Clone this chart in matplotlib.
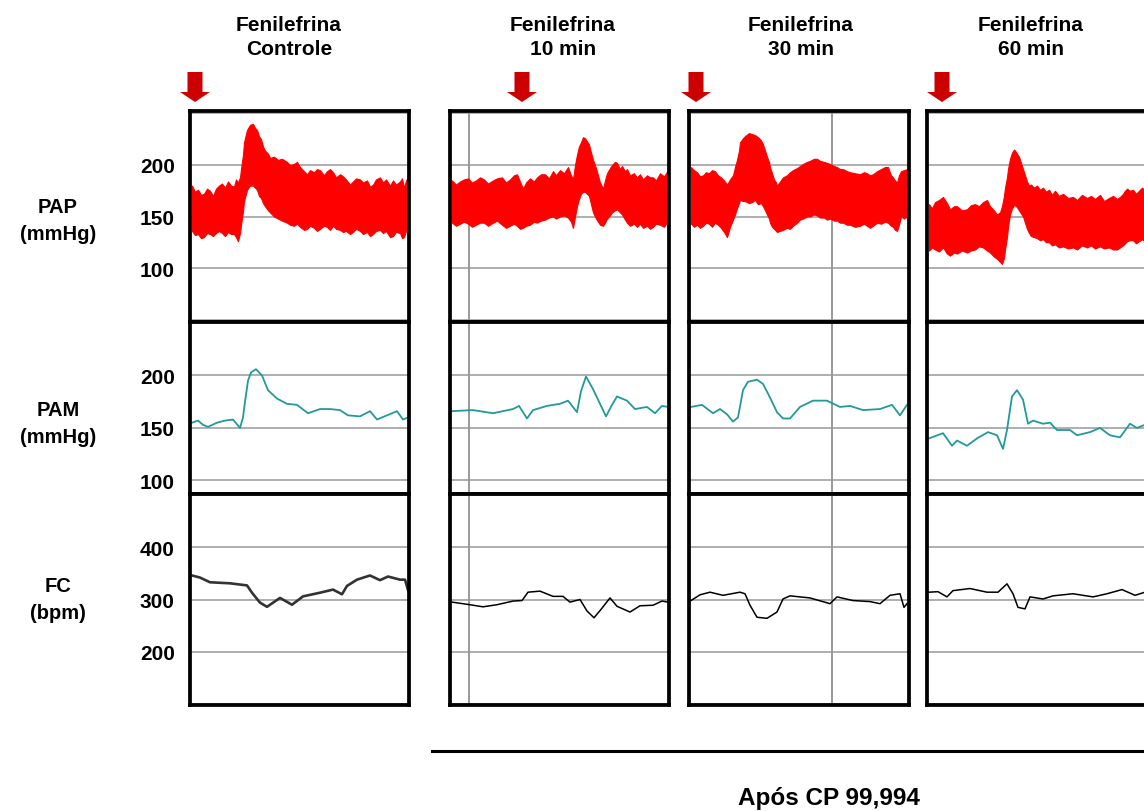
import numpy as np
import matplotlib.pyplot as plt
from matplotlib.patches import Polygon
from matplotlib import transforms
from matplotlib.lines import Line2D

plt.rcParams['font.family'] = ['Liberation Sans', 'DejaVu Sans']
plt.rcParams['font.weight'] = 'bold'

W, H = 1144, 812

# ---- labels / scales ----
titles = ['Fenilefrina\nControle', 'Fenilefrina\n10 min', 'Fenilefrina\n30 min', 'Fenilefrina\n60 min']
row_labels = ['PAP\n(mmHg)', 'PAM\n(mmHg)', 'FC\n(bpm)']
row_ticks = [[100, 150, 200], [100, 150, 200], [200, 300, 400]]
row_grid = [[50, 100, 150, 200, 250], [100, 150, 200, 250], [100, 200, 300, 400, 500]]
row_ylim = [(47.6, 252.4), (87, 251), (98, 502)]
footer = 'Após CP 99,994'

# injection moment (arrow) and vertical grid per window, in samples
arrow_t = [5, 72, 7, 15]
vgrid_t = [[], [19], [143], []]

# ---- PAP (pulsatile band: upper / lower envelope) ----
pap_t = [
    [2, 5, 8, 11, 14, 17, 20, 23, 26, 29, 32, 35, 38, 41, 44, 46, 48, 50, 51, 53,
     54, 56, 57, 60, 63, 65, 67, 69, 71, 73, 75, 78, 80, 84, 88, 92, 97, 100, 104, 107,
     110, 114, 117, 120, 124, 127, 130, 134, 137, 140, 143, 146, 150, 153, 156, 160, 163, 166, 170, 173,
     177, 180, 183, 186, 190, 193, 196, 200, 203, 206, 210, 212, 214, 216, 218],
    [2, 6, 10, 14, 18, 22, 26, 30, 34, 38, 43, 47, 52, 56, 60, 64, 67, 70, 73, 76,
     80, 84, 87, 91, 95, 99, 103, 106, 110, 114, 118, 121, 123, 125, 127, 129, 131, 133, 135, 137,
     139, 141, 143, 146, 148, 150, 153, 155, 157, 160, 162, 165, 167, 170, 172, 175, 177, 180, 184, 187,
     190, 193, 197, 200, 203, 206, 210, 214, 218],
    [2, 5, 8, 11, 14, 17, 20, 23, 26, 29, 32, 35, 38, 41, 44, 46, 48, 50, 51, 54,
     56, 60, 63, 66, 69, 72, 74, 76, 78, 80, 81, 83, 85, 87, 88, 91, 94, 98, 101, 104,
     108, 111, 114, 118, 121, 125, 128, 131, 135, 138, 141, 145, 148, 151, 154, 158, 161, 166, 171, 175,
     178, 181, 184, 188, 192, 196, 199, 202, 204, 206, 208, 210, 212, 215, 218],
    [2, 5, 8, 12, 16, 20, 23, 27, 30, 35, 40, 44, 48, 52, 56, 60, 63, 67, 70, 73,
     75, 77, 78, 80, 81, 83, 85, 87, 88, 90, 92, 94, 96, 98, 100, 102, 104, 107, 110, 113,
     116, 119, 122, 125, 128, 132, 136, 141, 146, 150, 155, 160, 164, 168, 173, 177, 182, 186, 190, 193,
     196, 198, 200, 203, 206, 209, 212, 215, 218],
]
pap_hi = [
    [180, 174, 176, 171, 172, 177, 175, 170, 177, 180, 182, 178, 184, 180, 179, 186, 183, 188, 196, 210,
     222, 230, 234, 239, 240, 236, 234, 228, 225, 218, 214, 211, 207, 208, 205, 206, 203, 200, 201, 203,
     198, 194, 191, 195, 193, 196, 195, 190, 194, 196, 193, 188, 191, 189, 186, 181, 184, 187, 186, 183,
     185, 179, 181, 186, 188, 183, 186, 180, 185, 181, 184, 187, 178, 185, 188],
    [185, 181, 184, 186, 187, 183, 185, 188, 186, 182, 185, 187, 188, 183, 186, 190, 191, 184, 177, 183,
     187, 184, 188, 191, 191, 187, 194, 190, 195, 192, 198, 190, 186, 200, 210, 218, 222, 227, 226, 223,
     220, 212, 205, 197, 190, 183, 177, 185, 192, 197, 200, 203, 202, 196, 199, 194, 196, 190, 192, 188,
     191, 186, 190, 188, 188, 185, 192, 189, 195],
    [198, 195, 193, 189, 190, 193, 192, 195, 194, 190, 188, 185, 181, 186, 190, 198, 205, 214, 222, 226,
     228, 231, 230, 229, 227, 224, 220, 214, 208, 203, 198, 192, 186, 183, 180, 184, 188, 190, 193, 195,
     197, 199, 201, 203, 204, 206, 206, 204, 203, 202, 201, 199, 198, 196, 196, 194, 193, 192, 191, 193,
     192, 190, 191, 194, 196, 198, 198, 190, 188, 185, 183, 190, 194, 195, 196],
    [162, 158, 164, 166, 169, 163, 157, 160, 160, 156, 157, 161, 162, 160, 164, 166, 160, 156, 152, 154,
     160, 170, 178, 188, 196, 206, 212, 215, 214, 211, 208, 202, 196, 190, 184, 180, 181, 178, 180, 176,
     178, 174, 176, 171, 175, 170, 172, 168, 169, 166, 171, 168, 170, 167, 171, 165, 168, 170, 167, 169,
     172, 175, 177, 175, 176, 172, 175, 178, 175],
]
pap_lo = [
    [136, 132, 133, 129, 130, 134, 133, 131, 134, 136, 134, 131, 135, 133, 133, 130, 126, 134, 142, 155,
     165, 172, 176, 180, 180, 178, 176, 170, 168, 163, 160, 156, 154, 150, 148, 146, 144, 142, 141, 143,
     140, 137, 138, 141, 139, 136, 138, 141, 140, 137, 141, 138, 137, 135, 136, 133, 135, 138, 136, 133,
     135, 131, 133, 136, 137, 134, 136, 130, 131, 135, 134, 129, 130, 136, 138],
    [144, 141, 143, 145, 143, 140, 142, 144, 144, 141, 144, 146, 142, 139, 141, 143, 141, 138, 139, 141,
     142, 145, 144, 146, 147, 149, 150, 148, 150, 151, 149, 145, 139, 150, 160, 167, 172, 174, 174, 172,
     170, 162, 154, 148, 145, 142, 141, 144, 148, 151, 154, 156, 157, 154, 152, 147, 144, 141, 143, 140,
     143, 139, 141, 138, 140, 143, 142, 140, 146],
    [143, 140, 142, 139, 141, 144, 143, 140, 144, 142, 139, 135, 130, 140, 147, 152, 158, 163, 166, 165,
     165, 163, 164, 166, 162, 163, 160, 156, 152, 148, 144, 140, 138, 136, 135, 136, 137, 139, 138, 141,
     144, 147, 148, 150, 150, 152, 151, 149, 149, 147, 148, 146, 146, 144, 144, 142, 142, 140, 141, 143,
     141, 139, 141, 144, 143, 145, 144, 141, 140, 137, 136, 142, 150, 148, 150],
    [117, 120, 118, 116, 120, 114, 112, 115, 114, 117, 115, 117, 118, 121, 120, 117, 115, 111, 109, 106,
     104, 110, 118, 130, 140, 152, 158, 161, 161, 159, 156, 153, 150, 144, 138, 134, 131, 130, 129, 127,
     128, 125, 125, 122, 123, 120, 121, 119, 120, 118, 122, 120, 122, 119, 121, 119, 120, 118, 118, 120,
     122, 124, 126, 127, 127, 124, 126, 128, 126],
]

# ---- PAM ----
pam_t = [
    [2, 8, 13, 18, 27, 35, 43, 50, 53, 55, 58, 61, 66, 72, 78, 87, 97, 107, 118, 130,
     140, 150, 158, 170, 180, 187, 197, 207, 213, 218],
    [2, 23, 43, 63, 69, 77, 83, 97, 110, 118, 127, 131, 136, 143, 151, 156, 162, 167, 177, 185,
     197, 205, 212, 218],
    [2, 13, 24, 31, 38, 44, 49, 54, 59, 68, 74, 81, 88, 94, 101, 111, 124, 138, 151, 161,
     174, 191, 203, 211, 218],
    [2, 16, 25, 30, 40, 50, 61, 70, 76, 80, 85, 90, 96, 101, 106, 116, 123, 130, 143, 150,
     163, 173, 183, 193, 203, 210, 218],
]
pam_v = [
    [155, 157, 153, 151, 155, 157, 158, 150, 160, 175, 195, 203, 206, 200, 186, 178, 173, 172, 164, 168,
     168, 167, 162, 161, 166, 158, 162, 166, 158, 160],
    [166, 167, 164, 168, 171, 159, 167, 171, 173, 176, 165, 185, 199, 187, 171, 161, 172, 180, 176, 168,
     170, 164, 171, 170],
    [170, 172, 164, 168, 163, 156, 160, 186, 194, 196, 192, 179, 165, 159, 159, 170, 176, 176, 170, 171,
     167, 168, 172, 162, 172],
    [140, 145, 133, 138, 133, 140, 146, 143, 130, 148, 180, 186, 177, 154, 157, 154, 155, 148, 148, 143,
     146, 150, 143, 141, 154, 150, 153],
]

# ---- FC ----
fc_t = [
    [2, 10, 20, 40, 57, 62, 70, 77, 90, 102, 113, 130, 143, 152, 157, 167, 180, 190, 198, 210, 215, 218],
    [2, 20, 33, 47, 63, 72, 78, 90, 103, 113, 120, 130, 137, 144, 151, 160, 167, 180, 190, 203, 212, 218],
    [2, 11, 21, 34, 51, 56, 61, 68, 78, 88, 94, 101, 121, 141, 148, 164, 181, 191, 201, 211, 215, 218],
    [2, 11, 20, 26, 43, 60, 71, 80, 86, 91, 98, 103, 116, 126, 146, 166, 180, 195, 208, 218],
]
fc_v = [
    [346, 342, 333, 331, 327, 313, 294, 286, 303, 290, 306, 313, 319, 310, 326, 338, 346, 337, 344, 338, 338, 318],
    [295, 290, 286, 290, 297, 298, 314, 316, 306, 306, 295, 300, 278, 265, 281, 303, 287, 276, 288, 289, 297, 295],
    [298, 309, 314, 308, 314, 311, 289, 266, 264, 276, 301, 307, 303, 292, 305, 298, 296, 292, 308, 311, 285, 292],
    [314, 315, 305, 317, 321, 314, 314, 330, 311, 285, 282, 305, 301, 307, 311, 305, 311, 319, 308, 314],
]

# ---- layout (pixels) ----
col_left = [190, 450, 689, 927]
col_w = [219, 219, 220, 220]
row_top = [112, 323, 495]
row_bot = [323, 495, 706]
grid_c = '#a8a8a8'
pap_c = '#ff0000'
pam_c = '#22999a'
arrow_c = '#cc0000'

fig = plt.figure(figsize=(W / 100, H / 100), dpi=100)


def fx(px):
    return px / W


def fy(py):
    return 1 - py / H


for c in range(4):
    for r in range(3):
        ax = fig.add_axes([fx(col_left[c]), fy(row_bot[r]),
                           col_w[c] / W, (row_bot[r] - row_top[r]) / H])
        ax.set_xlim(0, col_w[c])
        ax.set_ylim(*row_ylim[r])
        for g in row_grid[r]:
            ax.axhline(g, color=grid_c, lw=1.3, zorder=1)
        for v in vgrid_t[c]:
            ax.axvline(v, color='#999999', lw=1.4, zorder=1)
        ax.set_xticks([])
        if c == 0:
            ax.set_yticks(row_ticks[r])
            ax.set_yticklabels([str(v) for v in row_ticks[r]], fontsize=15, fontweight='bold')
            ax.tick_params(axis='y', length=0, pad=11)
        else:
            ax.set_yticks([])
        for s in ax.spines.values():
            s.set_linewidth(2.7)
            s.set_color('black')
            s.set_zorder(5)

        if r == 0:
            ax.fill_between(pap_t[c], pap_lo[c], pap_hi[c], color=pap_c, lw=0.8,
                            edgecolor=pap_c, zorder=3)
            trans = transforms.blended_transform_factory(ax.transData, fig.transFigure)
            t0 = arrow_t[c]
            verts = [(t0 - 7.5, fy(73)), (t0 + 7.5, fy(73)), (t0 + 7.5, fy(93)),
                     (t0 + 15, fy(93)), (t0, fy(103)), (t0 - 15, fy(93)), (t0 - 7.5, fy(93))]
            fig.patches.append(Polygon(verts, closed=True, facecolor=arrow_c,
                                       edgecolor='none', transform=trans))
        elif r == 1:
            ax.plot(pam_t[c], pam_v[c], color=pam_c, lw=1.3, zorder=3)
        else:
            lw = 1.9 if c == 0 else 1.1
            col = '#333333' if c == 0 else 'black'
            ax.plot(fc_t[c], fc_v[c], color=col, lw=lw, zorder=3)

# window titles
title_x = [289, 563, 801, 1031]
for c in range(4):
    fig.text(fx(title_x[c]), fy(37.5), titles[c], ha='center', va='center',
             fontsize=15, fontweight='bold', linespacing=1.37)

# row labels
label_y = [221, 424, 600]
for r in range(3):
    fig.text(fx(58), fy(label_y[r]), row_labels[r], ha='center', va='center',
             fontsize=14.5, fontweight='bold', linespacing=1.58)

# bracket line + footer
fig.add_artist(Line2D([fx(432), fx(1150)], [fy(752), fy(752)], color='black', lw=2.2))
fig.text(fx(829), fy(799), footer, ha='center', va='center', fontsize=17.5, fontweight='bold')

fig.savefig('out.png', dpi=100)
